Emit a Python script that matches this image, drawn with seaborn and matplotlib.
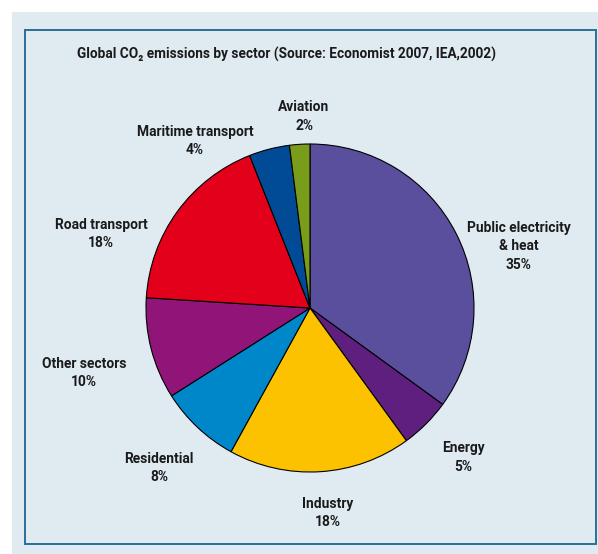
import matplotlib
matplotlib.use("Agg")
import matplotlib.pyplot as plt
from matplotlib.patches import Rectangle
import seaborn as sns

# Global CO2 emissions by sector, share of total (%)
sectors = ["Public electricity\n& heat", "Energy", "Industry", "Residential",
           "Other sectors", "Road transport", "Maritime transport", "Aviation"]
shares = [35, 5, 18, 8, 10, 18, 4, 2]
sector_colors = ["#5a4f9c", "#5f1f7e", "#fcc200", "#0087ca",
                 "#911479", "#e2001a", "#014b96", "#7a9c1b"]

title = "Global CO\u2082 emissions by sector (Source: Economist 2007, IEA,2002)"

sns.set_theme(style="white")
plt.rcParams["font.family"] = ["Roboto", "DejaVu Sans"]

W, H = 598, 554
fig = plt.figure(figsize=(W / 100, H / 100), dpi=100)
fig.patch.set_facecolor("white")
ax = fig.add_axes([0, 0, 1, 1])


def top(y):
    """Convert a top-down pixel row to the axes' upward y coordinate."""
    return H - y


# panel background and frame
ax.add_patch(Rectangle((12, 0), W - 12, top(12), facecolor="#dfeaf1",
                       edgecolor="none", zorder=0))
ax.add_patch(Rectangle((25, top(544)), 596 - 25, 544 - 30, facecolor="none",
                       edgecolor="#2b6f95", linewidth=1.4, zorder=1))

palette = sns.color_palette(sector_colors)
ax.pie(shares, colors=palette, startangle=90, counterclock=False,
       center=(310, top(308)), radius=164,
       wedgeprops=dict(edgecolor="black", linewidth=0.8), frame=False)
ax.set_xlim(0, W)
ax.set_ylim(0, H)
ax.set_aspect("equal")
ax.axis("off")

ax.text(77, top(54), title, ha="left", va="center", fontsize=9.8,
        fontweight="bold", color="#1a1a1a")

# label block centres (x, y from the top)
label_pos = [(519, 246.5), (463, 457.5), (328, 513), (159, 468),
             (84, 373), (101, 234), (195, 141), (304, 116.5)]
for name, val, (lx, ly) in zip(sectors, shares, label_pos):
    ax.text(lx, top(ly), f"{name}\n{val}%", ha="center", va="center",
            multialignment="center", fontsize=9.9, fontweight="bold",
            color="#1a1a1a", linespacing=1.42)

fig.savefig("out.png", dpi=100, facecolor=fig.get_facecolor())
